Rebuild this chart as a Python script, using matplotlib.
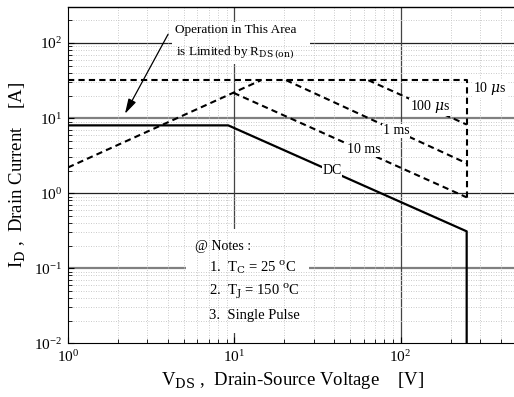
import matplotlib
matplotlib.use("Agg")
import matplotlib.pyplot as plt
from matplotlib.ticker import LogLocator, NullFormatter
from matplotlib.patches import Rectangle

plt.rcParams["font.family"] = ["Liberation Serif", "DejaVu Serif"]
plt.rcParams["mathtext.fontset"] = "dejavuserif"

# Safe operating area boundaries (V_DS in volts, I_D in amperes)
v_dc = [1, 9.2, 250, 250]
i_dc = [8.0, 8.0, 0.31, 0.01]
v_10us = [1, 250, 250]
i_10us = [32, 32, 0.86]
v_100us = [64, 250]
i_100us = [32, 8.2]
v_1ms = [20.5, 250]
i_1ms = [32, 2.5]
v_10ms = [9.9, 250]
i_10ms = [21.7, 0.88]
v_rds = [1, 14.5]
i_rds = [2.2, 32]

# Curve labels and their anchor points
curve_labels = ["10 $\\mu$s", "100 $\\mu$s", "1 ms", "10 ms", "DC"]
label_v = [345, 150, 94, 60, 38.7]
label_i = [24.5, 14.1, 6.8, 3.8, 2.0]

fig = plt.figure(figsize=(5.14, 3.97), dpi=100)
ax = fig.add_axes([0.1323, 0.1353, 0.873, 0.8465])
ax.set_xscale("log")
ax.set_yscale("log")
ax.set_xlim(1, 500)
ax.set_ylim(0.01, 300)

# grid
ax.xaxis.set_minor_locator(LogLocator(base=10, subs=range(2, 10)))
ax.yaxis.set_minor_locator(LogLocator(base=10, subs=range(2, 10)))
ax.xaxis.set_minor_formatter(NullFormatter())
ax.yaxis.set_minor_formatter(NullFormatter())
ax.grid(which="minor", color="#c4c4c4", linestyle=(0, (1.2, 1.8)), linewidth=0.6, zorder=0)
for yv, c, lw in [(1e2, "#222222", 0.9), (1e1, "#808080", 1.6), (1e0, "#222222", 0.9), (1e-1, "#808080", 1.6)]:
    ax.axhline(yv, color=c, lw=lw, zorder=0.5)
for xv in [10, 100]:
    ax.axvline(xv, color="#444444", lw=0.9, zorder=0.5)

ax.tick_params(which="both", direction="in", top=False, right=False, labelsize=11)
ax.tick_params(which="major", length=4, pad=4)
ax.tick_params(which="minor", length=3)
for s in ["top", "right"]:
    ax.spines[s].set_visible(False)
ax.plot([1, 500], [300, 300], color="black", lw=1.0, clip_on=False, zorder=3)

# white areas behind the text blocks
ax.add_patch(Rectangle((0.263, 0.030), 0.274, 0.311, transform=ax.transAxes,
                       facecolor="white", edgecolor="none", zorder=1))
ax.add_patch(Rectangle((0.232, 0.832), 0.307, 0.125, transform=ax.transAxes,
                       facecolor="white", edgecolor="none", zorder=1))

dash = (0, (3, 2))
ax.plot(v_dc, i_dc, color="black", lw=1.6, zorder=2)
ax.plot(v_10us, i_10us, color="black", lw=1.5, linestyle=dash, zorder=2)
ax.plot(v_100us, i_100us, color="black", lw=1.5, linestyle=dash, zorder=2)
ax.plot(v_1ms, i_1ms, color="black", lw=1.5, linestyle=dash, zorder=2)
ax.plot(v_10ms, i_10ms, color="black", lw=1.5, linestyle=dash, zorder=2)
ax.plot(v_rds, i_rds, color="black", lw=1.5, linestyle=dash, zorder=2)

for txt, xv, yv in zip(curve_labels, label_v, label_i):
    ax.text(xv, yv, txt, fontsize=10, ha="center", va="center", zorder=4,
            bbox=dict(facecolor="white", edgecolor="none", pad=0.3))

# R_DS(on) annotation
ax.text(0.238, 0.932, "Operation in This Area", transform=ax.transAxes,
        fontsize=9.5, ha="left", va="center", zorder=4)
ax.text(0.240, 0.866, "is Limited by R$_{\\rm DS\\,(on)}$", transform=ax.transAxes,
        fontsize=9.5, ha="left", va="center", zorder=4)
ax.annotate("", xy=(2.2, 11.4), xytext=(4.0, 131),
            arrowprops=dict(arrowstyle="-|>,head_length=0.9,head_width=0.25",
                            color="black", lw=0.9, shrinkA=0, shrinkB=0), zorder=4)

# notes
ax.text(0.283, 0.288, "@ Notes :", transform=ax.transAxes, fontsize=10, va="center", zorder=4)
ax.text(0.314, 0.225, "1.  T$_{\\rm C}$ = 25 $^{\\rm o}$C", transform=ax.transAxes, fontsize=10.5, va="center", zorder=4)
ax.text(0.314, 0.154, "2.  T$_{\\rm J}$ = 150 $^{\\rm o}$C", transform=ax.transAxes, fontsize=10.5, va="center", zorder=4)
ax.text(0.314, 0.083, "3.  Single Pulse", transform=ax.transAxes, fontsize=10.5, va="center", zorder=4)

ax.set_xlabel("V$_{\\rm DS}$ ,  Drain-Source Voltage    [V]", fontsize=13.5, labelpad=4)
ax.set_ylabel("I$_{\\rm D}$ ,  Drain Current    [A]", fontsize=13.5, labelpad=5)

fig.savefig("out.png", dpi=100)
